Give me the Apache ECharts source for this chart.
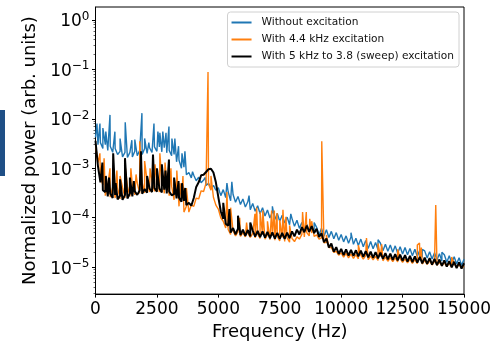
<!DOCTYPE html>
<html>
<head>
<meta charset="utf-8">
<script src="https://cdn.jsdelivr.net/npm/echarts@6/dist/echarts.min.js"></script>
<style>html,body{margin:0;padding:0;background:#fff}#chart{width:502px;height:346px}</style>
</head>
<body>
<div id="chart"></div>
<script>
// 频谱数据, 每100 Hz 一个点
var freqStep = 100;
var yMajor = [1e-5, 1e-4, 1e-3, 1e-2, 1e-1, 1];
var yMinor = [3e-6,4e-6,5e-6,6e-6,7e-6,8e-6,9e-6,
  2e-5,3e-5,4e-5,5e-5,6e-5,7e-5,8e-5,9e-5,
  2e-4,3e-4,4e-4,5e-4,6e-4,7e-4,8e-4,9e-4,
  2e-3,3e-3,4e-3,5e-3,6e-3,7e-3,8e-3,9e-3,
  2e-2,3e-2,4e-2,5e-2,6e-2,7e-2,8e-2,9e-2,
  2e-1,3e-1,4e-1,5e-1,6e-1,7e-1,8e-1,9e-1];

var blueBase = [
  4.2e-3,3.0e-3,3.3e-3,2.5e-3,3.0e-3,2.3e-3,2.8e-3,2.1e-3,2.5e-3,1.9e-3,
  2.2e-3,1.7e-3,2.1e-3,1.65e-3,2.1e-3,1.7e-3,2.2e-3,1.8e-3,2.3e-3,1.9e-3,
  2.5e-3,2.0e-3,2.6e-3,2.1e-3,2.7e-3,2.2e-3,2.7e-3,2.15e-3,2.6e-3,2.05e-3,
  2.3e-3,1.8e-3,1.9e-3,1.35e-3,1.45e-3,1.0e-3,1.05e-3,7.4e-4,8.2e-4,6.4e-4,
  7.2e-4,5.6e-4,6.6e-4,5.1e-4,5.8e-4,4.5e-4,5.0e-4,3.9e-4,4.5e-4,3.6e-4,
  4.05e-4,2.8e-4,3.7e-4,2.55e-4,3.35e-4,2.2e-4,2.95e-4,2.05e-4,2.7e-4,1.85e-4,
  2.4e-4,1.65e-4,2.1e-4,1.45e-4,1.95e-4,1.35e-4,1.75e-4,1.2e-4,1.6e-4,1.08e-4,
  1.43e-4,9.9e-5,1.31e-4,9.2e-5,1.22e-4,8.5e-5,1.12e-4,7.8e-5,1.03e-4,7.2e-5,
  9.6e-5,6.7e-5,8.9e-5,6.1e-5,8.0e-5,5.6e-5,7.4e-5,5.2e-5,6.9e-5,4.85e-5,
  6.4e-5,4.55e-5,6.1e-5,4.25e-5,5.7e-5,4.0e-5,5.3e-5,3.75e-5,5.0e-5,3.5e-5,
  4.6e-5,3.25e-5,4.3e-5,3.05e-5,4.1e-5,2.9e-5,3.85e-5,2.75e-5,3.7e-5,2.6e-5,
  3.45e-5,2.4e-5,3.3e-5,2.35e-5,3.15e-5,2.25e-5,3.05e-5,2.15e-5,2.9e-5,2.1e-5,
  2.8e-5,2.0e-5,2.7e-5,1.92e-5,2.6e-5,1.85e-5,2.5e-5,1.78e-5,2.4e-5,1.7e-5,
  2.3e-5,1.64e-5,2.22e-5,1.58e-5,2.14e-5,1.53e-5,2.06e-5,1.46e-5,1.97e-5,1.4e-5,
  1.87e-5,1.33e-5,1.78e-5,1.26e-5,1.7e-5,1.21e-5,1.63e-5,1.16e-5,1.56e-5,1.1e-5,
  1.45e-5
];
var blueSpikes = [[60,8e-3],[180,8e-3],[300,6.5e-3],[420,5.5e-3],[590,1.2e-2],[790,5.5e-3],
  [1000,4e-3],[1210,8.5e-3],[1480,3.7e-3],[1600,3.8e-3],[1890,1.3e-2],[2000,4e-3],[2170,3.3e-3],
  [2380,8e-3],[2540,5.5e-3],[2620,5.2e-3],[2740,5.5e-3],[2870,5.2e-3],[2990,7e-3],[3110,4e-3],
  [3230,4e-3],[3380,2.8e-3],[3520,2e-3],[3640,2.2e-3],[3950,8.5e-4],[4470,6.5e-4],[5350,5e-4],
  [5550,5.3e-4],[6250,2.8e-4],[7200,1.7e-4],[7950,1.2e-4],[8900,8e-5],[10400,5e-5],[11500,3.6e-5],
  [13300,2.3e-5],[14100,2e-5]];

var orangeBase = [
  3.0e-3,1.3e-3,6.5e-4,4.6e-4,2.8e-4,4.4e-4,2.6e-4,4.2e-4,2.5e-4,4.0e-4,
  2.4e-4,4.1e-4,2.5e-4,4.3e-4,2.7e-4,4.6e-4,2.9e-4,5.0e-4,3.1e-4,5.2e-4,
  3.2e-4,5.5e-4,3.3e-4,5.6e-4,3.4e-4,5.8e-4,3.3e-4,5.5e-4,3.1e-4,5.0e-4,
  2.8e-4,4.3e-4,2.3e-4,3.3e-4,1.7e-4,2.3e-4,1.3e-4,1.7e-4,1.3e-4,1.8e-4,
  1.7e-4,2.5e-4,2.4e-4,3.5e-4,3.4e-4,5.0e-4,4.8e-4,3.6e-4,2.6e-4,1.8e-4,
  1.5e-4,1.0e-4,8.5e-5,6.2e-5,5.8e-5,4.6e-5,5.4e-5,4.3e-5,5.2e-5,4.2e-5,
  5.0e-5,4.1e-5,4.9e-5,4.0e-5,4.8e-5,3.9e-5,4.7e-5,3.8e-5,4.6e-5,3.7e-5,
  4.5e-5,3.6e-5,4.4e-5,3.5e-5,4.2e-5,3.4e-5,4.0e-5,3.3e-5,3.9e-5,3.2e-5,
  3.8e-5,3.3e-5,4.1e-5,3.7e-5,4.6e-5,4.1e-5,5.0e-5,4.3e-5,4.9e-5,4.2e-5,
  4.5e-5,3.7e-5,3.9e-5,3.1e-5,3.2e-5,2.5e-5,2.5e-5,2.0e-5,2.1e-5,1.75e-5,
  1.95e-5,1.6e-5,1.9e-5,1.55e-5,1.85e-5,1.5e-5,1.8e-5,1.48e-5,1.75e-5,1.45e-5,
  1.72e-5,1.42e-5,1.7e-5,1.4e-5,1.66e-5,1.37e-5,1.63e-5,1.35e-5,1.6e-5,1.32e-5,
  1.57e-5,1.3e-5,1.54e-5,1.28e-5,1.5e-5,1.26e-5,1.47e-5,1.23e-5,1.44e-5,1.2e-5,
  1.42e-5,1.18e-5,1.4e-5,1.16e-5,1.37e-5,1.14e-5,1.34e-5,1.11e-5,1.3e-5,1.09e-5,
  1.27e-5,1.06e-5,1.24e-5,1.03e-5,1.2e-5,1.0e-5,1.17e-5,9.8e-6,1.14e-5,9.6e-6,
  1.05e-5
];
var orangeSpikes = [[180,2e-3],[350,1.6e-3],[590,1e-3],[700,6.5e-4],[870,9e-4],[1000,7e-4],
  [1200,1.2e-3],[1440,1e-3],[1650,7.5e-4],[1800,3.5e-3],[2000,1.4e-3],[2220,1e-3],[2420,1.2e-3],
  [2500,8e-4],[2620,2e-3],[2700,9e-4],[2830,1.3e-3],[2950,7e-4],[3070,1e-3],[3200,6e-4],
  [3310,9e-4],[3440,5e-4],[3560,7e-4],[3700,4e-4],[4580,8.8e-2],[4700,7e-4],[5350,3.3e-4],
  [5500,1.6e-4],[5870,1e-4],[6150,8e-5],[6490,1.2e-4],[6560,1.6e-4],[6700,1.3e-4],[6810,1.4e-4],
  [7000,8.5e-5],[7170,1.4e-4],[7280,1.4e-4],[7390,1.25e-4],[7500,9e-5],[7630,1.45e-4],
  [7750,1.05e-4],[7900,7e-5],[8430,1.3e-4],[8580,1.3e-4],[8720,9.5e-5],[8800,8.5e-5],
  [9210,3.5e-3],[9400,4.5e-5],[10700,2.8e-5],[11030,3.9e-5],[11500,3e-5],[11650,2.9e-5],
  [12300,2.3e-5],[13100,2.8e-5],[13190,3.1e-5],[13260,2.5e-5],[13850,1.8e-4],[14500,1.6e-5]];

var blackBase = [
  3.6e-3,1.1e-3,5.2e-4,3.6e-4,3.3e-4,2.7e-4,3.1e-4,2.5e-4,2.9e-4,2.35e-4,
  2.8e-4,2.3e-4,2.9e-4,2.45e-4,3.1e-4,2.7e-4,3.4e-4,2.9e-4,3.6e-4,3.05e-4,
  3.8e-4,3.2e-4,3.9e-4,3.3e-4,4.0e-4,3.35e-4,3.9e-4,3.25e-4,3.7e-4,3.1e-4,
  3.4e-4,2.85e-4,3.0e-4,2.45e-4,2.55e-4,2.1e-4,2.2e-4,1.8e-4,2.0e-4,1.75e-4,
  2.5e-4,4.2e-4,5.2e-4,7.2e-4,7.4e-4,8.4e-4,9.6e-4,9.8e-4,8.2e-4,5.2e-4,
  2.6e-4,1.35e-4,9.5e-5,7.6e-5,6.9e-5,5.0e-5,6.2e-5,4.6e-5,6.0e-5,4.45e-5,
  5.75e-5,4.3e-5,5.65e-5,4.2e-5,5.5e-5,4.15e-5,5.4e-5,4.05e-5,5.3e-5,3.95e-5,
  5.2e-5,3.85e-5,5.05e-5,3.8e-5,4.95e-5,3.75e-5,4.95e-5,3.75e-5,5.0e-5,3.85e-5,
  5.3e-5,4.2e-5,5.75e-5,4.6e-5,6.45e-5,5.1e-5,6.9e-5,5.2e-5,6.8e-5,4.9e-5,
  6.0e-5,4.1e-5,4.85e-5,3.2e-5,3.8e-5,2.5e-5,3.0e-5,2.05e-5,2.55e-5,1.85e-5,
  2.35e-5,1.75e-5,2.3e-5,1.72e-5,2.25e-5,1.69e-5,2.2e-5,1.65e-5,2.16e-5,1.62e-5,
  2.12e-5,1.58e-5,2.07e-5,1.55e-5,2.02e-5,1.51e-5,1.98e-5,1.48e-5,1.93e-5,1.44e-5,
  1.89e-5,1.41e-5,1.84e-5,1.37e-5,1.79e-5,1.34e-5,1.75e-5,1.3e-5,1.7e-5,1.27e-5,
  1.66e-5,1.24e-5,1.61e-5,1.2e-5,1.56e-5,1.17e-5,1.52e-5,1.13e-5,1.47e-5,1.1e-5,
  1.43e-5,1.06e-5,1.38e-5,1.03e-5,1.33e-5,9.9e-6,1.29e-5,9.6e-6,1.25e-5,9.4e-6,
  1.2e-5
];
var blackSpikes = [[180,1.1e-3],[280,1.3e-3],[420,7e-4],[550,6.5e-4],[720,2e-3],[820,5e-4],
  [1000,6e-4],[1200,1.6e-3],[1400,6.5e-4],[1560,5.5e-4],[1850,2.2e-3],[2100,7e-4],[2340,1.9e-3],
  [2500,1e-3],[2700,1.2e-3],[2850,9e-4],[2990,1.5e-3],[3200,6.5e-4],[3380,5.5e-4],[3520,5e-4],
  [3650,4e-4],[5200,2e-4],[5450,1.5e-4],[5800,1.1e-4],[6300,8e-5]];

var legendNames = ['Without excitation', 'With 4.4 kHz excitation', 'With 5 kHz to 3.8 (sweep) excitation'];

function buildSeries(base, spikes) {
  var pts = base.map(function (v, i) { return [i * freqStep, v]; });
  pts = pts.concat(spikes);
  pts.sort(function (a, b) { return a[0] - b[0]; });
  return pts;
}

// 10的幂次上标标签
function supLabel(v) {
  var e = Math.round(Math.log(v) / Math.LN10);
  var s = e < 0 ? '\u2212' + (-e) : String(e);
  return '{b|10}{s|' + s + '}';
}

var chart = echarts.init(document.getElementById('chart'), null, {renderer: 'canvas'});
var fontFam = 'DejaVu Sans';
var option = {
  animation: false,
  textStyle: {fontFamily: fontFam},
  grid: {left: 95.5, right: 38, top: 7, bottom: 47.5, show: true, borderColor: '#000', borderWidth: 1},
  graphic: [{type: 'rect', left: 0, top: 110, shape: {width: 5, height: 66}, style: {fill: '#1f4f86'}}],
  legend: {
    orient: 'vertical', right: 43, top: 12,
    data: legendNames,
    backgroundColor: '#fff', borderColor: '#d0d0d0', borderWidth: 1, borderRadius: 3,
    padding: [5, 5, 5, 3], itemWidth: 20, itemHeight: 12, itemGap: 6,
    itemStyle: {opacity: 0},
    textStyle: {fontSize: 10.6, color: '#111', fontFamily: fontFam, padding: [0, 0, 0, 5]}
  },
  xAxis: {
    type: 'value', min: 0, max: 15000, interval: 2500,
    name: 'Frequency (Hz)', nameLocation: 'middle', nameGap: 27,
    nameTextStyle: {fontSize: 18, color: '#000', fontFamily: fontFam},
    axisLine: {show: true, lineStyle: {color: '#000', width: 1}},
    axisTick: {show: true, inside: false, length: 3.5, lineStyle: {color: '#000'}},
    axisLabel: {fontSize: 17, color: '#000', margin: 7, fontFamily: fontFam,
      formatter: function (v) { return String(v); }},
    splitLine: {show: false}
  },
  yAxis: [{
    type: 'log', logBase: 10, min: 2.86e-6, max: 1.82,
    name: 'Normalized power (arb. units)', nameLocation: 'middle', nameGap: 56,
    nameTextStyle: {fontSize: 18, color: '#000', fontFamily: fontFam},
    axisLine: {show: true, lineStyle: {color: '#000', width: 1}},
    axisTick: {show: true, length: 3.5, lineStyle: {color: '#000'}, customValues: yMajor},
    axisLabel: {
      customValues: yMajor, margin: 6, formatter: supLabel,
      rich: {
        b: {fontSize: 17, color: '#000', fontFamily: fontFam, lineHeight: 18, padding: [4, 0, 0, 0]},
        s: {fontSize: 12, color: '#000', fontFamily: fontFam, lineHeight: 12, verticalAlign: 'top'}
      }
    },
    splitLine: {show: false}
  }, {
    type: 'log', logBase: 10, min: 2.86e-6, max: 1.82, position: 'left',
    axisLine: {show: false}, axisLabel: {show: false}, splitLine: {show: false},
    axisTick: {show: true, length: 2, lineStyle: {color: '#000', width: 0.6}, customValues: yMinor}
  }],
  series: [
    {name: legendNames[0], type: 'line', symbol: 'none', data: buildSeries(blueBase, blueSpikes),
     lineStyle: {color: '#1f77b4', width: 1.4}, itemStyle: {color: '#1f77b4'}},
    {name: legendNames[1], type: 'line', symbol: 'none', data: buildSeries(orangeBase, orangeSpikes),
     lineStyle: {color: '#ff7f0e', width: 1.4}, itemStyle: {color: '#ff7f0e'}},
    {name: legendNames[2], type: 'line', symbol: 'none', data: buildSeries(blackBase, blackSpikes),
     lineStyle: {color: '#000', width: 2}, itemStyle: {color: '#000'}}
  ]
};
chart.setOption(option);
</script>
</body>
</html>
